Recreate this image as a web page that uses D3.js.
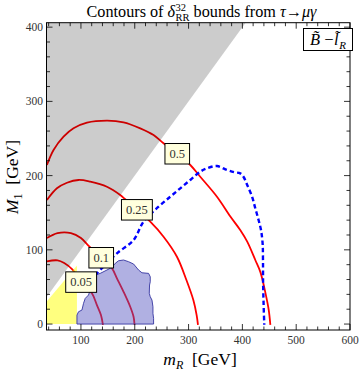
<!DOCTYPE html>
<html><head><meta charset="utf-8">
<script src="https://cdn.jsdelivr.net/npm/d3@7"></script>
<style>body{margin:0;background:#fff}svg{display:block}text{white-space:pre}</style>
</head><body><svg id="c" width="360" height="373"></svg>
<script>
// ---------- data (mR, M1 in GeV) ----------
const xDomain = [36, 600];
const yDomain = [-8, 406];
const xMajor = [100, 200, 300, 400, 500, 600];
const yMajor = [0, 100, 200, 300, 400];
const xMinor = d3.range(40, 601, 20);
const yMinor = d3.range(0, 401, 20);
const levels = ["0.05", "0.1", "0.25", "0.5"];
const contour005 = [[36.8,84.5],[56.5,85.8],[68.9,82.2],[84.4,73.2],[100.4,56.6],[120.4,41.4],[129.7,25.6],[137.2,12.1],[140.9,-1]];
const contour01 = [[36.8,115.9],[56.5,122.6],[81.4,122.6],[100,115.9],[115.4,104.7],[137.7,89.4],[157.6,75.1],[166.9,61.6],[179.2,43.5],[191.6,23.3],[197.8,9.8],[199.6,-1]];
const contour025 = [[36.8,167.1],[55.4,182.9],[74,190.4],[95.5,194.1],[117.3,191.8],[148.3,185],[173,173.9],[182.3,168.1],[204,154],[228.8,137.9],[253.5,117.7],[278.4,90.7],[296,59.3],[309,32],[315,12],[317.5,-1]];
const contour05 = [[36.8,214.3],[49.1,234.5],[67.7,252.4],[86.2,263.7],[111.2,271.3],[148.3,274],[179.2,271.8],[210.2,263.7],[234.9,254.7],[253.5,243.5],[279,229.5],[303.2,214.3],[321.7,198.5],[352.8,171.6],[378,144.6],[396,126.7],[409,111],[424,86.3],[433.5,70],[443,41.4],[449,18.9],[452,-1]];
const labelAnchors = [[100.4,56.6],[137.7,89.4],[204,154],[279,229.5]];
const dashedBound = [[126.6,66],[148,82],[168,96],[197.8,113.2],[216.4,137.9],[244.2,158.1],[266,171.6],[284.6,182.9],[303.2,194.1],[321.7,205.3],[334.2,209.8],[352.8,212.9],[371.4,207.5],[385,204.5],[396,203],[402,198.5],[408.6,188],[418,171.6],[424,156],[430.1,140.2],[434.6,126.7],[437.6,108.8],[438.3,86.3],[438.5,55],[439.4,28],[440.7,-1]];
const blobRegion = [[92.6,0],[92.6,12.1],[95.5,16.6],[101.9,18.9],[104.8,27.9],[108,34.6],[114.1,39.1],[120.3,52.6],[126.6,66],[135.9,68.3],[148.3,72.8],[157.6,76.4],[163.8,81.8],[169.9,85.3],[179.2,86.3],[188.5,84],[197.8,80.9],[207.1,72.8],[213.4,69.1],[225.7,68.3],[228.8,63.7],[228.8,57],[227.5,52.6],[227,41.4],[228.8,36.8],[232,32.3],[233.8,23.3],[233.8,14.4],[235,7.7],[235,0]];
const yellowRegion = [[36,0],[36,30],[92.6,79],[92.6,0]];
const grayRegion = [[36,36],[406,406],[36,406]];

// ---------- layout ----------
const L = 46.5, R = 350, T = 22.7, B = 330;
const svg = d3.select("#c");
const x = d3.scaleLinear().domain(xDomain).range([L, R]);
const y = d3.scaleLinear().domain(yDomain).range([B, T]);
const FONT = "'Liberation Serif','DejaVu Serif',serif";

svg.append("clipPath").attr("id","clip").append("rect")
  .attr("x",L).attr("y",T).attr("width",R-L).attr("height",B-T);
const plot = svg.append("g").attr("clip-path","url(#clip)");

const line = d3.line().x(d=>x(d[0])).y(d=>y(d[1])).curve(d3.curveCatmullRom.alpha(0.5));
const poly = d3.line().x(d=>x(d[0])).y(d=>y(d[1])).curve(d3.curveLinearClosed);

// red contours
[contour005, contour01, contour025, contour05].forEach(c=>{
  plot.append("path").attr("d", line(c)).attr("fill","none")
    .attr("stroke","#ff0000").attr("stroke-width",1.8);
});
// overlays
plot.append("path").attr("d", poly(grayRegion)).attr("fill","#000").attr("fill-opacity",0.2);
plot.append("path").attr("d", poly(yellowRegion)).attr("fill","#ffff00").attr("fill-opacity",0.5);
plot.append("path").attr("d", poly(blobRegion)).attr("fill","rgb(80,80,190)").attr("fill-opacity",0.45)
  .attr("stroke","#3535a0").attr("stroke-width",0.9);
// dashed bound
plot.append("path").attr("d", line(dashedBound)).attr("fill","none")
  .attr("stroke","#0000ff").attr("stroke-width",2.4).attr("stroke-dasharray","4.5,3");

// contour labels
levels.forEach((lv,i)=>{
  const cx = x(labelAnchors[i][0]), cy = y(labelAnchors[i][1]);
  const g = svg.append("g");
  const t = g.append("text").attr("x",cx).attr("y",cy+4.2).attr("text-anchor","middle")
    .attr("font-family",FONT).attr("font-size",12.5).attr("fill","#333").text(lv);
  const w = t.node().getComputedTextLength() + 9;
  g.insert("rect","text").attr("x",cx-w/2).attr("y",cy-10.2).attr("width",w).attr("height",20.5)
    .attr("fill","#ffffdd").attr("stroke","#000").attr("stroke-width",1);
});

// frame & ticks
const fr = svg.append("g");
fr.append("rect").attr("x",L).attr("y",T).attr("width",R-L).attr("height",B-T)
  .attr("fill","none").attr("stroke","#000").attr("stroke-width",1);
xMinor.forEach(v=>{
  const len = xMajor.includes(v) ? 6 : 3.5;
  fr.append("line").attr("x1",x(v)).attr("x2",x(v)).attr("y1",B).attr("y2",B-len).attr("stroke","#000").attr("stroke-width",0.8);
  fr.append("line").attr("x1",x(v)).attr("x2",x(v)).attr("y1",T).attr("y2",T+len).attr("stroke","#000").attr("stroke-width",0.8);
});
yMinor.forEach(v=>{
  const len = yMajor.includes(v) ? 6 : 3.5;
  fr.append("line").attr("y1",y(v)).attr("y2",y(v)).attr("x1",L).attr("x2",L+len).attr("stroke","#000").attr("stroke-width",0.8);
  fr.append("line").attr("y1",y(v)).attr("y2",y(v)).attr("x1",R).attr("x2",R-len).attr("stroke","#000").attr("stroke-width",0.8);
});
xMajor.forEach(v=>{
  fr.append("text").attr("x",x(v)).attr("y",B+14).attr("text-anchor","middle")
    .attr("font-family",FONT).attr("font-size",11.5).attr("fill","#333").text(v);
});
yMajor.forEach(v=>{
  fr.append("text").attr("x",L-3.5).attr("y",y(v)+4).attr("text-anchor","end")
    .attr("font-family",FONT).attr("font-size",11.5).attr("fill","#333").text(v);
});

// helper: sequential rich text (stack:true pieces come in pairs sharing x)
function rich(parent, pieces, size){
  const g = parent.append("g");
  let cx = 0, stackW = null;
  pieces.forEach(p=>{
    const t = g.append("text").attr("x",cx).attr("y",(p.dy||0))
      .attr("font-family",FONT).attr("font-size",p.size||size)
      .attr("font-style",p.it?"italic":"normal").attr("fill","#000").text(p.t);
    const w = t.node().getComputedTextLength();
    if (p.stack){
      if (stackW===null){ stackW = w; }
      else { cx += Math.max(stackW,w); stackW = null; }
    } else {
      cx += w + (p.after||0);
    }
  });
  return {g, width: cx};
}

// title
{
  const r = rich(svg, [
    {t:"Contours of "},
    {t:"δ", it:true, after:0.5},
    {t:"32", size:10.5, dy:-6, stack:true},
    {t:"RR", size:10.5, dy:4, stack:true},
    {t:" bounds from "},
    {t:"τ", it:true},
    {t:"→"},
    {t:"μγ", it:true}
  ], 16.2);
  r.g.attr("transform", `translate(${201.5 - r.width/2},17)`);
}
// x axis title
{
  const r = rich(svg, [
    {t:"m", it:true},
    {t:"R", it:true, size:12, dy:4},
    {t:"  [GeV]"}
  ], 17.5);
  r.g.attr("transform", `translate(${200 - r.width/2},365)`);
}
// y axis title
{
  const r = rich(svg, [
    {t:"M", it:true},
    {t:"1", size:12, dy:4},
    {t:"  [GeV]"}
  ], 17.5);
  r.g.attr("transform", `translate(18,${177 + r.width/2}) rotate(-90)`);
}
// legend box
{
  svg.append("rect").attr("x",303.5).attr("y",28.5).attr("width",49).attr("height",22)
    .attr("fill","#fff").attr("stroke","#000").attr("stroke-width",1);
  const r = rich(svg, [
    {t:"B\u0303", it:true},
    {t:" \u2212", after:0.5},
    {t:"l\u0303", it:true, after:0.5},
    {t:"R", it:true, size:11, dy:3.5}
  ], 16.5);
  r.g.attr("transform", `translate(${328 - r.width/2},45)`);
}
</script></body></html>
